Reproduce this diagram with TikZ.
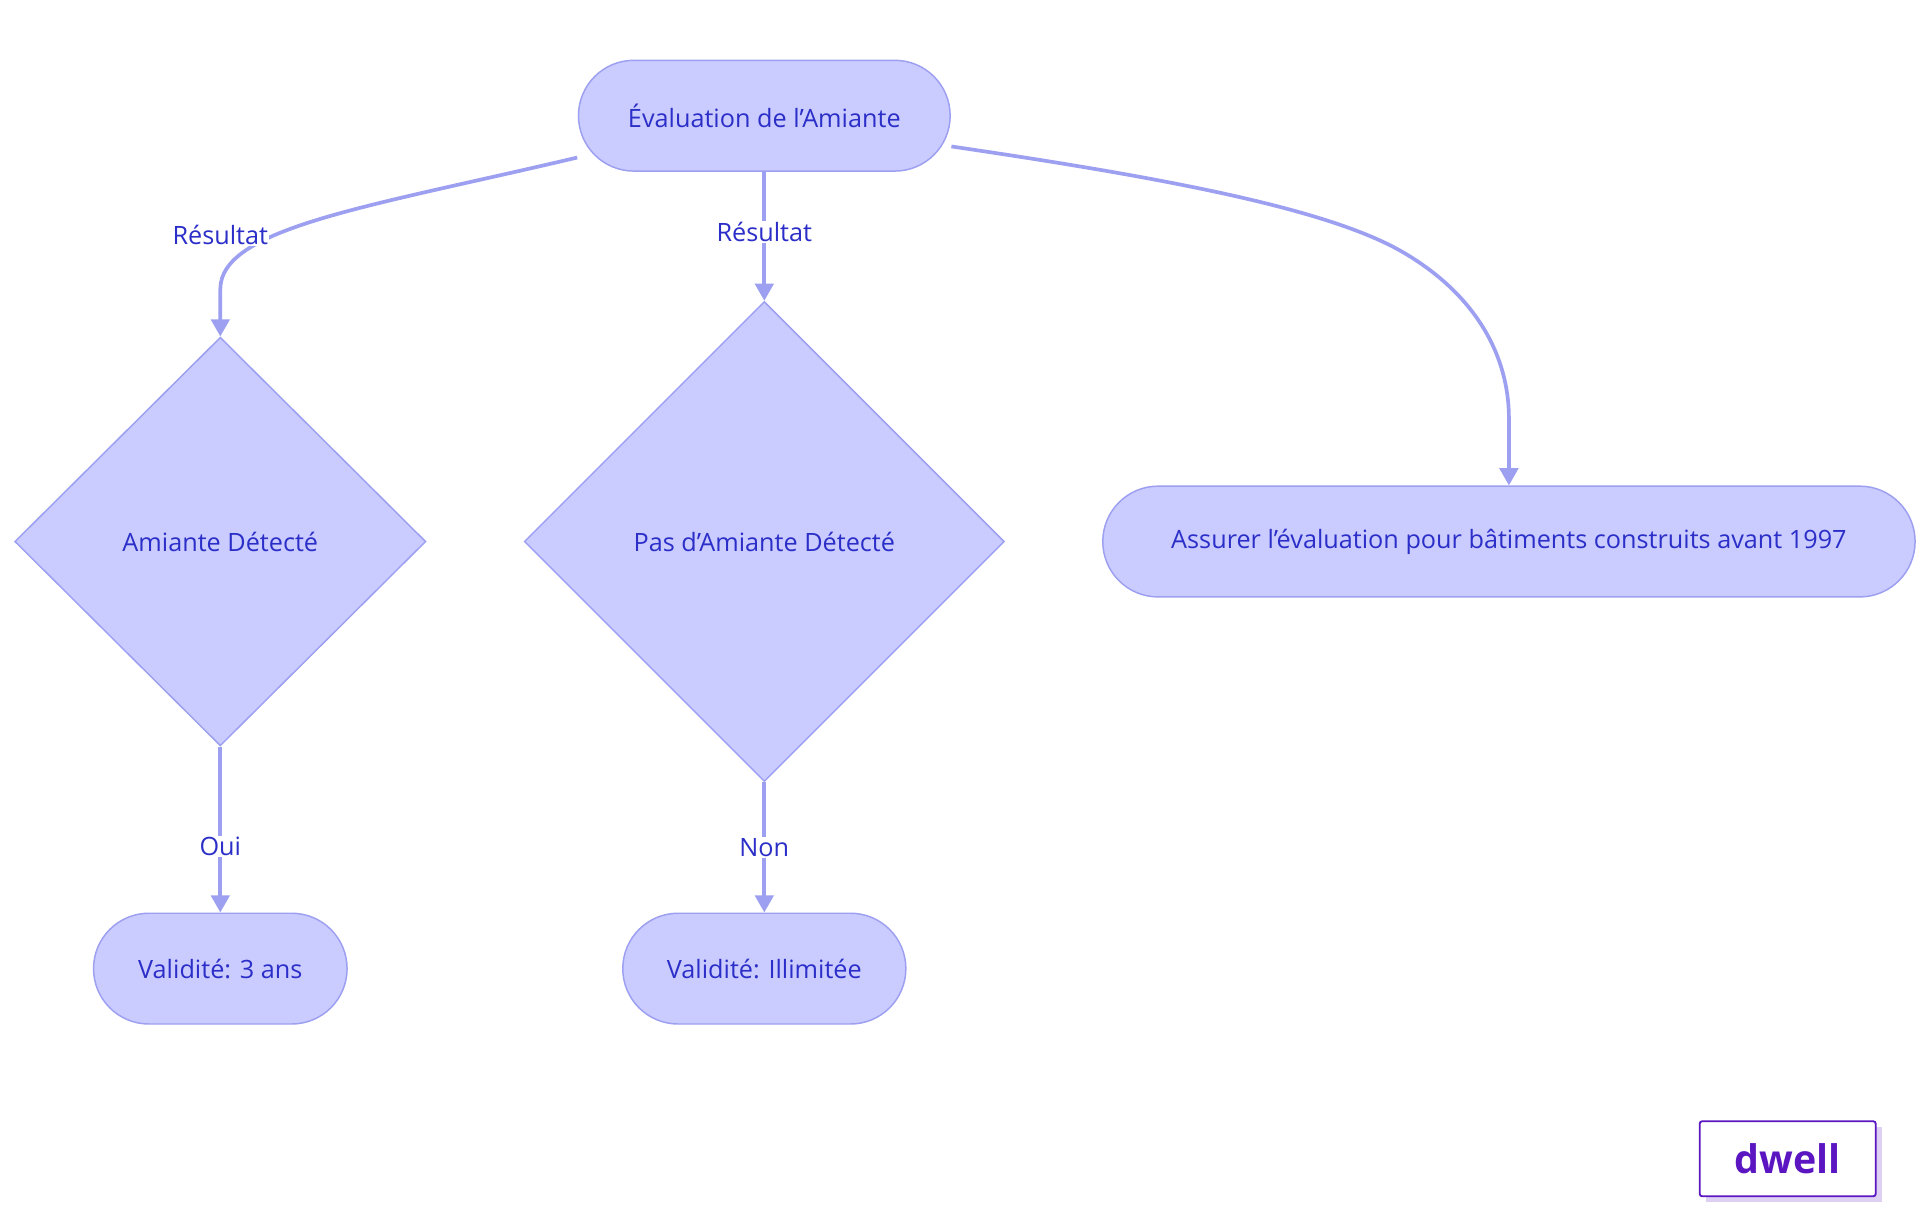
\documentclass[tikz,border=0pt]{standalone}
\usepackage{fontspec}
\setmainfont{Open Sans}
\usetikzlibrary{shapes.geometric,arrows.meta}
\definecolor{fillc}{HTML}{CACBFF}
\definecolor{linec}{HTML}{9DA0F0}
\definecolor{txt}{HTML}{2B2FC8}
\definecolor{logo}{HTML}{5B16C2}
\begin{document}
\begin{tikzpicture}[x=1pt,y=-1pt,
 every node/.style={font=\fontsize{20.5}{24}\selectfont,text=txt},
 pill/.style={draw=linec,fill=fillc,line width=1.2pt,rounded corners=45pt,minimum height=90pt,inner sep=0pt},
 dia/.style={draw=linec,fill=fillc,line width=1.2pt,diamond,inner sep=0pt,aspect=1},
 edge/.style={draw=linec,line width=3pt,-{Triangle[length=14pt,width=15pt]}},
 lab/.style={fill=white,inner sep=1pt}]
\useasboundingbox (0,0) rectangle (1560,987);
\node[pill,minimum width=302pt] (top) at (621,94) {Évaluation de l'Amiante};
\node[dia,minimum width=334pt,minimum height=332pt] (d1) at (179,440) {Amiante Détecté};
\node[dia,minimum width=390pt,minimum height=390pt] (d2) at (621,440) {Pas d'Amiante Détecté};
\node[pill,minimum width=660pt] (r) at (1226,440) {Assurer l'évaluation pour bâtiments construits avant 1997};
\node[pill,minimum width=206pt] (b1) at (179,787) {Validité: 3 ans};
\node[pill,minimum width=230pt] (b2) at (621,787) {Validité: Illimitée};
\coordinate (s1) at (469,128);
\coordinate (s3) at (773,119);
\draw[edge] (s1) .. controls (300,168) and (179,185) .. (179,235) -- (d1.north);
\node[lab] at (179,191) {Résultat};
\draw[edge] (top.south) -- (d2.north) node[lab,pos=0.47] {Résultat};
\draw[edge] (s3) .. controls (950,145) and (1080,170) .. (1140,205) .. controls (1200,240) and (1226,290) .. (1226,340) -- (r.north);
\draw[edge] (d1.south) -- (b1.north) node[lab,pos=0.6] {Oui};
\draw[edge] (d2.south) -- (b2.north) node[lab,pos=0.5] {Non};
\fill[logo!20] (1386,916) rectangle (1529,977);
\node[draw=logo,fill=white,line width=1.5pt,rounded corners=2pt,minimum width=143pt,minimum height=61pt,text=logo,font=\fontsize{32}{34}\selectfont\bfseries] (logo) at (1452.5,941.5) {dwell};
\end{tikzpicture}
\end{document}
